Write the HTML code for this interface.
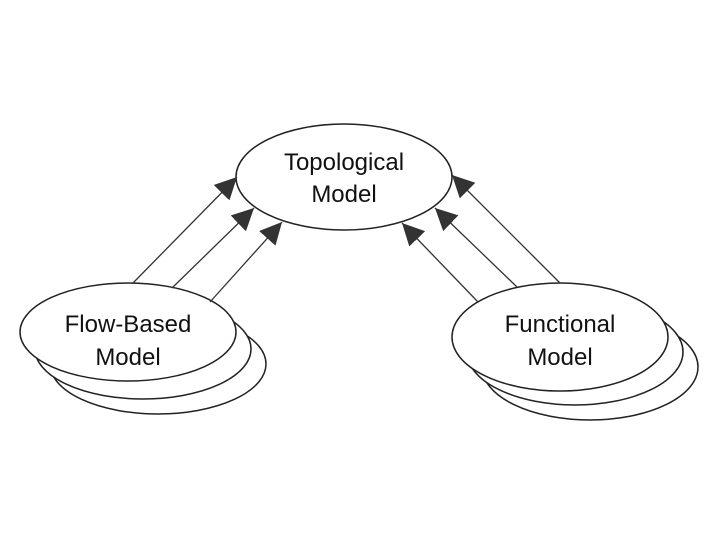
<!DOCTYPE html>
<html><head><meta charset="utf-8"><style>html,body{margin:0;padding:0;background:#fff}</style></head>
<body>
<svg width="720" height="540" viewBox="0 0 720 540" xmlns="http://www.w3.org/2000/svg">
<defs><marker id="a" viewBox="0 0 10 10" refX="10" refY="5" markerWidth="22" markerHeight="22" markerUnits="userSpaceOnUse" orient="auto"><path d="M0,0 L10,5 L0,10 z" fill="#333"/></marker></defs>
<g fill="#fff" stroke="#222" stroke-width="1.5">
<ellipse cx="158" cy="364" rx="108" ry="50"/>
<ellipse cx="143" cy="349" rx="108" ry="50"/>
<ellipse cx="128" cy="332" rx="108" ry="49"/>
<ellipse cx="590" cy="367" rx="108" ry="53"/>
<ellipse cx="575" cy="352" rx="108" ry="53"/>
<ellipse cx="560" cy="337" rx="108" ry="54"/>
<ellipse cx="344" cy="177" rx="108" ry="53"/>
</g>
<g stroke="#333" stroke-width="1.3" marker-end="url(#a)">
<line x1="133" y1="283" x2="237" y2="177"/>
<line x1="172" y1="288" x2="254" y2="208"/>
<line x1="210" y1="302" x2="282" y2="222"/>
<line x1="560" y1="283" x2="452" y2="175"/>
<line x1="517" y1="287" x2="435" y2="208"/>
<line x1="478" y1="302" x2="402" y2="223"/>
</g>
<g font-family="Liberation Sans, sans-serif" font-size="24" fill="#111" text-anchor="middle">
<text x="344" y="170">Topological</text><text x="344" y="202">Model</text>
<text x="128" y="332">Flow-Based</text><text x="128" y="365">Model</text>
<text x="560" y="332">Functional</text><text x="560" y="365">Model</text>
</g>
</svg>
</body></html>
